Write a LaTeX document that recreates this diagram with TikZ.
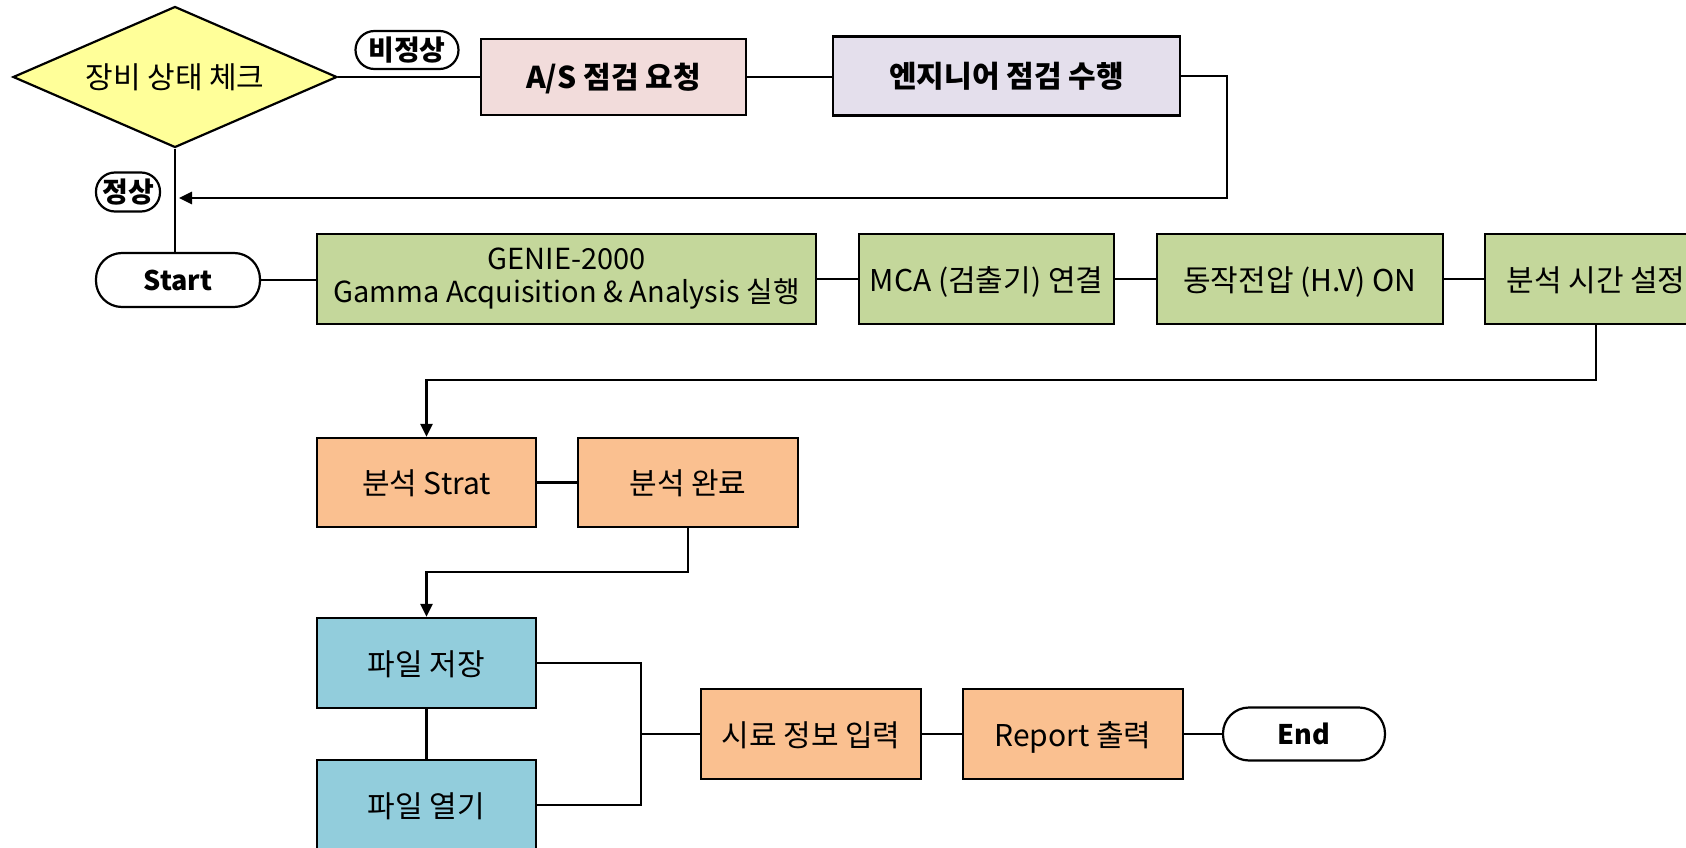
\documentclass[tikz,border=0pt]{standalone}
\usepackage{fontspec}
\setmainfont{Noto Sans CJK KR}
\usetikzlibrary{shapes.geometric,arrows.meta}

\definecolor{chkyellow}{RGB}{255,255,153}
\definecolor{reqpink}{RGB}{242,220,219}
\definecolor{englav}{RGB}{228,223,236}
\definecolor{stepgreen}{RGB}{196,215,155}
\definecolor{steporange}{RGB}{250,192,144}
\definecolor{stepblue}{RGB}{146,205,220}

\tikzset{
  line/.style={line width=2.6pt, draw=black},
  arrowline/.style={line, -{Triangle[length=13pt,width=12pt]}},
  boxbase/.style={draw=black, line width=2.2pt, inner sep=0pt, align=center,
    font=\fontsize{30}{33}\selectfont},
  stepbox/.style={boxbase, text height=25pt, text depth=1pt},
  boldbox/.style={stepbox, font=\fontsize{30}{33}\selectfont\bfseries},
  terminal/.style={draw=black, line width=2.2pt, fill=white, rounded corners=26pt,
    inner sep=0pt, font=\fontsize{27}{30}\selectfont\bfseries},
  tag/.style={draw=black, line width=2.2pt, fill=white, rounded corners=19pt,
    inner sep=0pt, font=\fontsize{28}{30}\selectfont\bfseries},
}

\begin{document}
\begin{tikzpicture}[x=1pt, y=-1pt]
\useasboundingbox (0,0) rectangle (1686,848);
\clip (0,0) rectangle (1686,848);

% decision and inspection branch
\node[diamond, draw=black, line width=2.2pt, fill=chkyellow, inner sep=0pt,
      shape aspect=2.3, minimum width=324pt, minimum height=141pt,
      font=\fontsize{30}{33}\selectfont] (chk) at (175,77) {장비 상태 체크};
\node[boldbox, fill=reqpink, minimum width=265pt, minimum height=76pt] (asreq) at (613.5,77) {A/S 점검 요청};
\node[boldbox, fill=englav, minimum width=347pt, minimum height=79pt] (eng) at (1006.5,76) {엔지니어 점검 수행};

% main measurement sequence
\node[terminal, minimum width=164pt, minimum height=54pt] (start) at (178,280) {Start};
\node[boxbase, fill=stepgreen, minimum width=499pt, minimum height=90pt,
      font=\fontsize{29}{33}\selectfont] (genie) at (566.5,279)
  {GENIE-2000\\Gamma Acquisition \& Analysis 실행};
\node[stepbox, fill=stepgreen, minimum width=255pt, minimum height=90pt] (mca) at (986.5,279) {MCA (검출기) 연결};
\node[stepbox, fill=stepgreen, minimum width=286pt, minimum height=90pt] (hv) at (1300,279) {동작전압 (H.V) ON};
\node[stepbox, fill=stepgreen, minimum width=222pt, minimum height=90pt] (time) at (1596,279) {분석 시간 설정};

\node[stepbox, fill=steporange, minimum width=219pt, minimum height=89pt] (strat) at (426.5,482.5) {분석 Strat};
\node[stepbox, fill=steporange, minimum width=220pt, minimum height=89pt] (done) at (688,482.5) {분석 완료};

\node[stepbox, fill=stepblue, minimum width=219pt, minimum height=90pt] (save) at (426.5,663) {파일 저장};
\node[stepbox, fill=stepblue, minimum width=219pt, minimum height=90pt] (open) at (426.5,805) {파일 열기};

\node[stepbox, fill=steporange, minimum width=220pt, minimum height=90pt] (sample) at (811,734) {시료 정보 입력};
\node[stepbox, fill=steporange, minimum width=220pt, minimum height=90pt] (report) at (1073,734) {Report 출력};
\node[terminal, minimum width=162pt, minimum height=53pt] (end) at (1304,734) {End};

% routing points
\coordinate (loopx) at (1227,198);
\coordinate (loopend) at (179,198);
\coordinate (rowA) at (0,380);
\coordinate (rowB) at (0,572);
\coordinate (bus) at (641,0);

% connectors
\draw[line] (chk.east) -- (chk.east -| asreq.west);
\draw[line] (asreq.east) -- (asreq.east -| eng.west);
\draw[arrowline] (eng.east) -| (loopx) -- (loopend);
\draw[line] (chk.south) -- (chk.south |- start.north);

\draw[line] (start.east) -- (start.east -| genie.west);
\draw[line] (genie.east) -- (mca.west);
\draw[line] (mca.east) -- (hv.west);
\draw[line] (hv.east) -- (time.west);
\draw[arrowline] (time.south) -- (time.south |- rowA) -| (strat.north);

\draw[line] (strat.east) -- (done.west);
\draw[arrowline] (done.south) -- (done.south |- rowB) -| (save.north);

\draw[line] (save.south) -- (open.north);
\draw[line] (save.east) -- (save.east -| bus) -- (open.east -| bus) -- (open.east);
\draw[line] (bus |- sample.west) -- (sample.west);
\draw[line] (sample.east) -- (report.west);
\draw[line] (report.east) -- (end.west);

% branch labels
\node[tag, minimum width=103pt, minimum height=38pt] (badtag) at (407,50) {비정상};
\node[tag, minimum width=64pt, minimum height=39pt] (oktag) at (128,192) {정상};
\end{tikzpicture}
\end{document}
